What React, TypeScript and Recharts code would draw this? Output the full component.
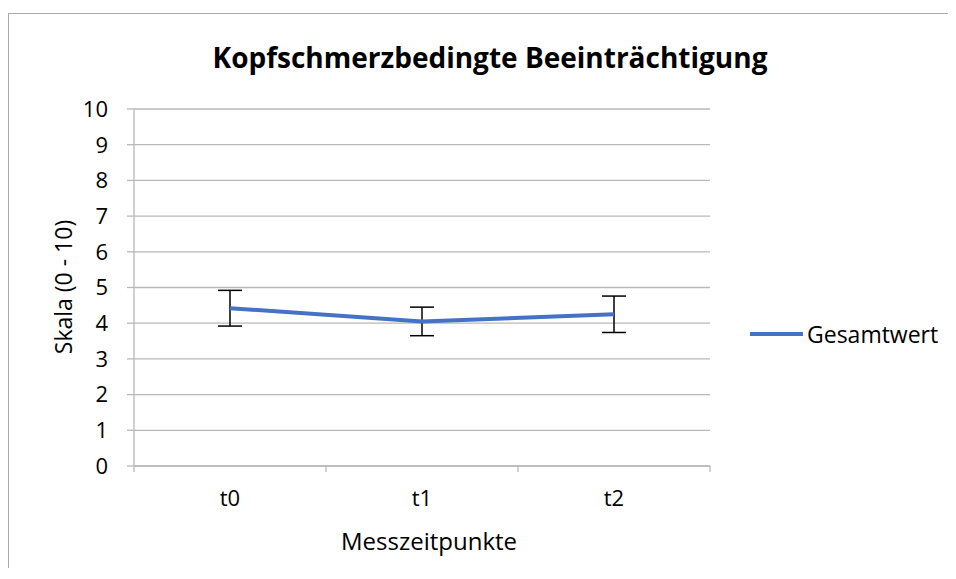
import React from 'react';
import { LineChart, Line, XAxis, YAxis, CartesianGrid, ErrorBar } from 'recharts';

const categories = ['t0', 't1', 't2'];
const gesamtwert = [4.42, 4.05, 4.25];
const gesamtwertError = [0.5, 0.4, 0.51];
const yTicks = [0, 1, 2, 3, 4, 5, 6, 7, 8, 9, 10];

const seriesName = 'Gesamtwert';
const chartTitle = 'Kopfschmerzbedingte Beeinträchtigung';
const yAxisTitle = 'Skala (0 - 10)';
const xAxisTitle = 'Messzeitpunkte';

const data = categories.map((c, i) => ({ name: c, value: gesamtwert[i], err: gesamtwertError[i] }));

const FONT = "'Open Sans', sans-serif";
const GRID = '#b8b8b8';
const BLUE = '#4472C4';
const X_TICK_SIZE = 6;
const X_TICK_MARGIN = 18;

const Anchored = ({ x, y, rotate, style, children }: any) => (
  <div style={{ position: 'absolute', left: x, top: y, width: 0, height: 0 }}>
    <div
      style={{
        position: 'absolute',
        transform: `translate(-50%, -50%)${rotate ? ` rotate(${rotate}deg)` : ''}`,
        whiteSpace: 'nowrap',
        fontFamily: FONT,
        color: '#000',
        ...style,
      }}
    >
      {children}
    </div>
  </div>
);

// Category tick: label at band centre, tick marks at band boundaries (Excel style)
const CategoryTick = (props: any) => {
  const { x, y, payload, index, visibleTicksCount } = props;
  const half = payload && payload.offset ? payload.offset : 0;
  const axisY = y - X_TICK_SIZE - X_TICK_MARGIN;
  const isLast = index === visibleTicksCount - 1;
  return (
    <g>
      <line x1={x - half} y1={axisY} x2={x - half} y2={axisY + X_TICK_SIZE} stroke={GRID} strokeWidth={1.3} />
      {isLast && (
        <line x1={x + half} y1={axisY} x2={x + half} y2={axisY + X_TICK_SIZE} stroke={GRID} strokeWidth={1.3} />
      )}
      <text x={x} y={y} dy="0.71em" textAnchor="middle" fill="#000" fontSize={22} fontFamily={FONT}>
        {payload.value}
      </text>
    </g>
  );
};

export default function App() {
  return (
    <div
      style={{
        position: 'relative',
        top: 5,
        width: 948,
        height: 560,
        overflow: 'hidden',
        fontFamily: FONT,
      }}
    >
      <div
        style={{
          position: 'absolute',
          left: 0,
          top: 0,
          width: 1000,
          height: 700,
          borderLeft: '1px solid #aaaaaa',
          borderTop: '1px solid #aaaaaa',
          boxSizing: 'border-box',
        }}
      />
      <div style={{ position: 'absolute', left: 1, top: 1, width: 947, height: 559 }}>
        <Anchored x={481} y={43} style={{ fontWeight: 700, fontSize: 28 }}>
          {chartTitle}
        </Anchored>
        <Anchored x={54} y={273} rotate={-90} style={{ fontSize: 23 }}>
          {yAxisTitle}
        </Anchored>
        <Anchored x={420} y={526} style={{ fontSize: 24 }}>
          {xAxisTitle}
        </Anchored>
        <div
          style={{
            position: 'absolute',
            left: 740,
            top: 304,
            display: 'flex',
            alignItems: 'center',
            fontFamily: FONT,
            fontSize: 23,
            color: '#000',
            whiteSpace: 'nowrap',
          }}
        >
          <svg width={56} height={10} style={{ display: 'block' }}>
            <line x1={1} y1={5} x2={54} y2={5} stroke={BLUE} strokeWidth={4} />
          </svg>
          <span style={{ marginLeft: 2 }}>{seriesName}</span>
        </div>
        <div style={{ position: 'absolute', left: 0, top: 0 }}>
          <LineChart
            width={947}
            height={556}
            data={data}
            margin={{ top: 95, right: 246, left: 0, bottom: 48 }}
          >
            <CartesianGrid horizontal vertical={false} stroke={GRID} strokeWidth={1.3} />
            <XAxis
              dataKey="name"
              type="category"
              scale="band"
              height={56}
              axisLine={{ stroke: GRID, strokeWidth: 1.3 }}
              tickLine={false}
              tickSize={X_TICK_SIZE}
              tickMargin={X_TICK_MARGIN}
              interval={0}
              tick={<CategoryTick />}
            />
            <YAxis
              type="number"
              domain={[0, 10]}
              ticks={yTicks}
              width={125}
              interval={0}
              tickSize={7}
              tickMargin={19}
              axisLine={{ stroke: GRID, strokeWidth: 1.3 }}
              tickLine={{ stroke: GRID, strokeWidth: 1.3 }}
              tick={{ fill: '#000', fontSize: 22, fontFamily: FONT }}
            />
            <Line
              type="linear"
              dataKey="value"
              name={seriesName}
              stroke={BLUE}
              strokeWidth={4}
              dot={false}
              activeDot={false}
              isAnimationActive={false}
            >
              <ErrorBar dataKey="err" width={12} stroke="#000" strokeWidth={1.5} direction="y" isAnimationActive={false} />
            </Line>
          </LineChart>
        </div>
      </div>
    </div>
  );
}
